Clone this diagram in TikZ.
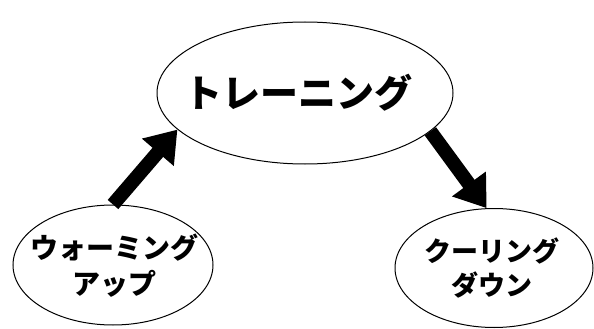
\documentclass[tikz,border=0pt]{standalone}
\usepackage{fontspec}
\newfontfamily\jp{Noto Sans CJK JP}
\usetikzlibrary{shapes.geometric,arrows.meta}
\tikzset{
  bubble/.style={draw, ellipse, line width=1pt, inner sep=0pt},
  label/.style={align=center, inner sep=0pt, font=\jp\bfseries},
  fat/.style={line width=14pt, -{Triangle[width=40pt,length=30pt]}}
}
\begin{document}
\begin{tikzpicture}[x=1pt,y=-1pt]
\useasboundingbox (0,0) rectangle (594,329);
\node[bubble, minimum width=296pt, minimum height=142pt] (train) at (305,93) {};
\node[bubble, minimum width=200pt, minimum height=120pt] (warm) at (113,265) {};
\node[bubble, minimum width=198pt, minimum height=119pt] (cool) at (494,268) {};
\node[label, font=\jp\bfseries\fontsize{38}{42}\selectfont] (traint) at (298,93) {トレーニング};
\node[label, font=\jp\bfseries\fontsize{28}{36}\selectfont] (warmt) at (114,266) {ウォーミング\\アップ};
\node[label, font=\jp\bfseries\fontsize{27}{34}\selectfont] (coolt) at (492,268) {クーリング\\ダウン};
\draw[fat] (warm.north) -- (train.196);
\draw[fat] (train.-17) -- (cool.97);
\end{tikzpicture}
\end{document}
